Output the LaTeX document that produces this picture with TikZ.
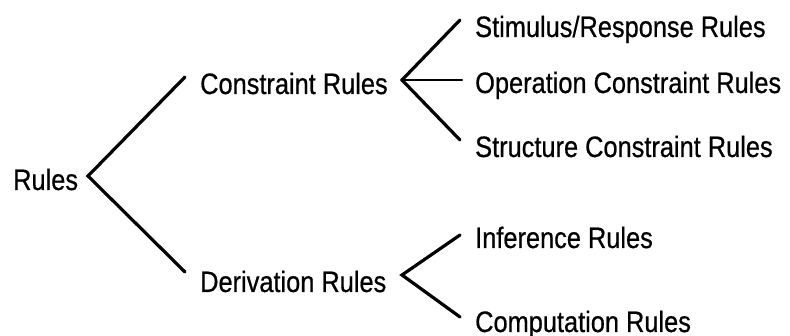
\documentclass[tikz,border=0pt]{standalone}
\usepackage{fontspec}
\setmainfont{Liberation Sans}[FakeStretch=0.86,FakeBold=0.6]
\begin{document}
\begin{tikzpicture}[x=1pt,y=-1pt,
  lbl/.style={anchor=base west, inner sep=0pt, font=\fontsize{29.5}{32}\selectfont},
  br/.style={line width=3.2pt, line cap=round, line join=miter},
  thinbr/.style={line width=2.2pt, line cap=round}]
\useasboundingbox (0,0) rectangle (790,336);
% labels
\node[lbl] (rules) at (13,190) {Rules};
\node[lbl] (cons) at (200,94) {Constraint Rules};
\node[lbl] (deriv) at (200,292) {Derivation Rules};
\node[lbl] (stim) at (475,37) {Stimulus/Response Rules};
\node[lbl] (oper) at (475,93) {Operation Constraint Rules};
\node[lbl] (struc) at (475,157) {Structure Constraint Rules};
\node[lbl] (infer) at (475,248) {Inference Rules};
\node[lbl] (comp) at (475,332) {Computation Rules};
% fork points
\coordinate (v0) at (88,176);
\coordinate (v0a) at (185,77);
\coordinate (v0b) at (185,272);
\coordinate (v1) at (402,80);
\coordinate (v1a) at (460,20);
\coordinate (v1m) at (462,80);
\coordinate (v1b) at (460,140);
\coordinate (v2) at (402,275);
\coordinate (v2a) at (460,235);
\coordinate (v2b) at (460,317);
% connectors
\draw[br] (v0a) -- (v0) -- (v0b);
\draw[br] (v1a) -- (v1) -- (v1b);
\draw[thinbr] (v1) -- (v1m);
\draw[br] (v2a) -- (v2) -- (v2b);
\end{tikzpicture}
\end{document}
